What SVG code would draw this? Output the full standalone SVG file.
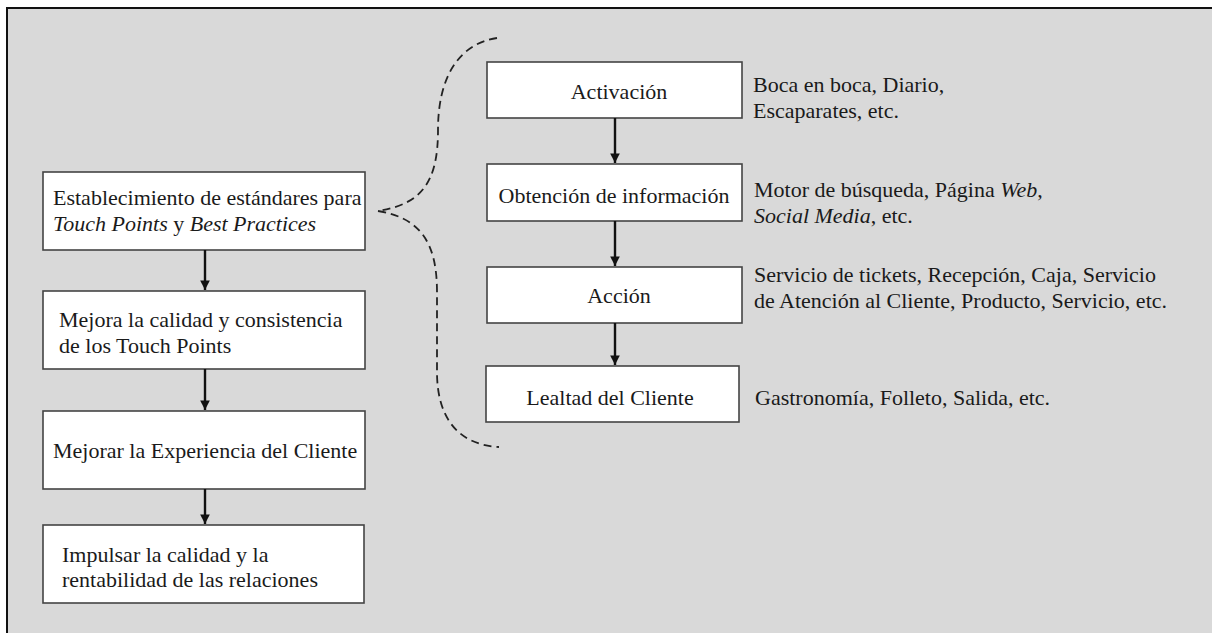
<svg xmlns="http://www.w3.org/2000/svg" width="1212" height="633" viewBox="0 0 1212 633">
<defs>
<marker id="ah" viewBox="0 0 10 10" refX="10" refY="5" markerWidth="4" markerHeight="4" orient="auto" markerUnits="strokeWidth">
<path d="M0,0 L10,5 L0,10 z" fill="#111"/>
</marker>
<style>
.box{fill:#fff;stroke:#444;stroke-width:1.6}
.t{font-family:"Liberation Serif","Times New Roman",serif;font-size:22px;fill:#1a1a1a}
.c{text-anchor:middle}
.arr{stroke:#111;stroke-width:2.4;fill:none;marker-end:url(#ah)}
.brace{stroke:#222;stroke-width:1.8;fill:none;stroke-dasharray:8 5}
</style>
</defs>
<rect x="0" y="0" width="1212" height="633" fill="#fff"/>
<rect x="7" y="8" width="1205" height="625" fill="#d9d9d9"/>
<path d="M7,633 L7,8 L1212,8" fill="none" stroke="#111" stroke-width="2"/>

<g id="n1"><rect class="box" x="43" y="172" width="322" height="78"/>
<text class="t" x="53" y="205">Establecimiento de estándares para</text>
<text class="t" x="53" y="231"><tspan font-style="italic">Touch Points</tspan> y <tspan font-style="italic">Best Practices</tspan></text></g>

<g id="n2"><rect class="box" x="43" y="291" width="322" height="78"/>
<text class="t" x="59" y="327">Mejora la calidad y consistencia</text>
<text class="t" x="59" y="353">de los Touch Points</text></g>

<g id="n3"><rect class="box" x="43" y="411" width="322" height="78"/>
<text class="t" x="53" y="458">Mejorar la Experiencia del Cliente</text></g>

<g id="n4"><rect class="box" x="43" y="525" width="321" height="78"/>
<text class="t" x="62" y="562">Impulsar la calidad y la</text>
<text class="t" x="62" y="587">rentabilidad de las relaciones</text></g>

<g id="r1"><rect class="box" x="487" y="62" width="255" height="56"/>
<text class="t c" x="619" y="99">Activación</text></g>
<g id="r2"><rect class="box" x="487" y="164" width="255" height="57"/>
<text class="t c" x="614" y="203">Obtención de información</text></g>
<g id="r3"><rect class="box" x="487" y="267" width="255" height="56"/>
<text class="t c" x="619" y="303">Acción</text></g>
<g id="r4"><rect class="box" x="486" y="366" width="253" height="56"/>
<text class="t c" x="610" y="405">Lealtad del Cliente</text></g>

<g id="d1"><text class="t" x="753" y="92">Boca en boca, Diario,</text>
<text class="t" x="753" y="118">Escaparates, etc.</text></g>
<g id="d2"><text class="t" x="754" y="197">Motor de búsqueda, Página <tspan font-style="italic">Web</tspan>,</text>
<text class="t" x="754" y="223"><tspan font-style="italic">Social Media</tspan>, etc.</text></g>
<g id="d3"><text class="t" x="754" y="282">Servicio de tickets, Recepción, Caja, Servicio</text>
<text class="t" x="754" y="308">de Atención al Cliente, Producto, Servicio, etc.</text></g>
<g id="d4"><text class="t" x="755" y="405">Gastronomía, Folleto, Salida, etc.</text></g>

<g id="connectors">
<line class="arr" x1="205" y1="250" x2="205" y2="290"/>
<line class="arr" x1="205" y1="369" x2="205" y2="410"/>
<line class="arr" x1="205" y1="489" x2="205" y2="524"/>
<line class="arr" x1="615" y1="118" x2="615" y2="163"/>
<line class="arr" x1="615" y1="221" x2="615" y2="266"/>
<line class="arr" x1="615" y1="323" x2="615" y2="365"/>
<path class="brace" d="M497,38 C458,44 438,78 438,130 C438,182 422,204 378,211"/>
<path class="brace" d="M378,211 C420,218 437,242 437,292 L437,372 C437,420 460,445 499,447"/>
</g>
</svg>
